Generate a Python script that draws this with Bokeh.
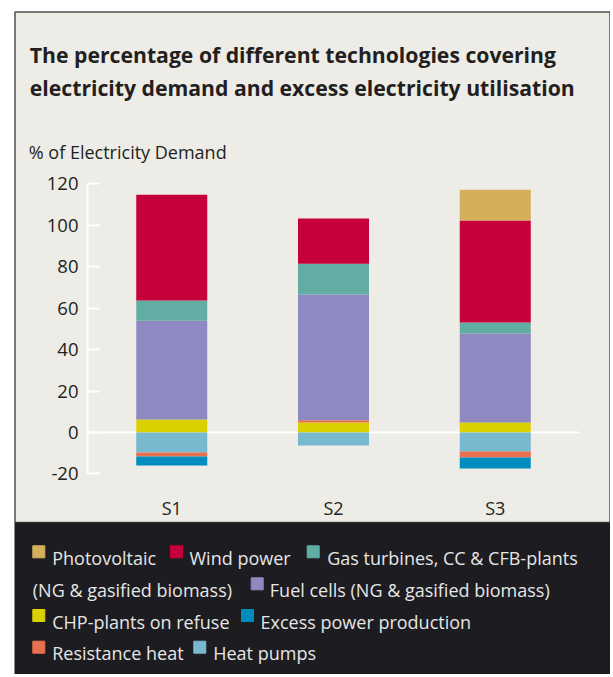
from bokeh.plotting import figure
from bokeh.models import ColumnDataSource, Range1d, FixedTicker
from bokeh.core.properties import value
from bokeh.embed import file_html
from bokeh.resources import INLINE

# ---------------- data ----------------
scenarios = ["S1", "S2", "S3"]
photovoltaic = [0.0, 0.0, 14.9]
wind_power = [51.1, 21.8, 49.2]
gas_turbines = [9.7, 14.9, 5.3]
fuel_cells = [47.7, 60.7, 43.0]
chp_refuse = [6.3, 4.8, 4.8]
resistance_heat_pos = [0.0, 1.1, 0.0]
heat_pumps = [-9.6, -6.3, -9.2]
resistance_heat = [-2.0, 0.0, -2.9]
excess_power = [-4.3, 0.0, -5.3]

y_ticks = [-20, 0, 20, 40, 60, 80, 100, 120]
y_tick_labels = ["-20", "0", "20", "40", "60", "80", "100", "120"]

title_lines = ["The percentage of different technologies covering",
               "electricity demand and excess electricity utilisation"]
y_title = "% of Electricity Demand"

legend_text = ["Photovoltaic", "Wind power", "Gas turbines, CC & CFB-plants",
               "(NG & gasified biomass)", "Fuel cells (NG & gasified biomass)",
               "CHP-plants on refuse", "Excess power production",
               "Resistance heat", "Heat pumps"]

# ---------------- styles ----------------
LIGHT = "#EDECE6"
DARK = "#1D1C20"
TEXT = "#231F20"
LEGTEXT = "#E6E6E6"
FONT = "Open Sans"
C = {
    "pv": "#D4AF5B",
    "wind": "#C5003A",
    "gas": "#61ADA3",
    "fuel": "#8F89C1",
    "chp": "#DCD100",
    "excess": "#008CBF",
    "res": "#E8704E",
    "hp": "#79B9D0",
}

# canvas geometry (page pixels)
OX, OY = 0, 0
W, H = 610, 674
PX_PER_X = 161.75      # pixels per category step
X1_PX = 171.25         # page x of first category centre
PX_PER_Y = 2.0714      # pixels per percentage point
Y0_PX = 432.0          # page y of the zero line


def X(px):
    return 1 + (px - X1_PX) / PX_PER_X


def Y(py):
    return (Y0_PX - py) / PX_PER_Y


def DW(px):
    return px / PX_PER_X


x_pos = list(range(1, len(scenarios) + 1))

src = ColumnDataSource(dict(
    x=x_pos, pv=photovoltaic, wind=wind_power, gas=gas_turbines,
    fuel=fuel_cells, chp=chp_refuse, res_pos=resistance_heat_pos,
    hp=heat_pumps, res=resistance_heat, exc=excess_power))

p = figure(width=W, height=H, title=None,
           x_range=Range1d(X(OX), X(OX + W)),
           y_range=Range1d(Y(OY + H), Y(OY)),
           output_backend="svg", toolbar_location=None,
           min_border=0, min_border_left=0, min_border_right=0,
           min_border_top=0, min_border_bottom=0,
           background_fill_color="white", border_fill_color="white",
           outline_line_color=None)
p.xgrid.visible = False
p.ygrid.visible = False

# panel backgrounds
p.quad(left=[X(14.5)], right=[X(609.5)], top=[Y(11.5)], bottom=[Y(522)],
       fill_color=LIGHT, line_color="#505050", line_width=1.5)
p.quad(left=[X(14)], right=[X(610)], top=[Y(522)], bottom=[Y(OY + H + 2)],
       fill_color=DARK, line_color=None)

# title
p.text(x=[X(29.3), X(29.3)], y=[Y(54.3), Y(86.7)], text=title_lines,
       text_font=value(FONT), text_font_style="bold", text_font_size="21.2px",
       text_color=TEXT, text_baseline="alphabetic")
p.text(x=[X(28.3)], y=[Y(151.7)], text=[y_title],
       text_font=value(FONT), text_font_size="18px",
       text_color=TEXT, text_baseline="alphabetic")

# zero line
axis_x = X(87)
p.segment(x0=[axis_x], y0=[0], x1=[X(579)], y1=[0], line_color="white", line_width=2)

# bars (fill only, so zero-height segments stay invisible)
BW = DW(71)
p.vbar_stack(["chp", "res_pos", "fuel", "gas", "wind", "pv"], x="x", width=BW,
             fill_color=[C["chp"], C["res"], C["fuel"], C["gas"], C["wind"], C["pv"]],
             line_color=None, source=src)
p.vbar_stack(["hp", "res", "exc"], x="x", width=BW,
             fill_color=[C["hp"], C["res"], C["excess"]], line_color=None, source=src)

# axes
ya = p.yaxis[0]
ya.fixed_location = axis_x
ya.ticker = FixedTicker(ticks=y_ticks)
ya.major_label_overrides = dict(zip(y_ticks, y_tick_labels))
ya.bounds = (-20, 120)
ya.axis_line_color = "white"
ya.axis_line_width = 2
ya.major_tick_line_color = "white"
ya.major_tick_line_width = 2
ya.major_tick_in = 12
ya.major_tick_out = 0
ya.minor_tick_line_color = None
ya.major_label_standoff = 9
ya.major_label_text_font = FONT
ya.major_label_text_font_size = "18.5px"
ya.major_label_text_color = TEXT

xa = p.xaxis[0]
xa.fixed_location = Y(478)
xa.ticker = FixedTicker(ticks=x_pos)
xa.major_label_overrides = dict(zip(x_pos, scenarios))
xa.axis_line_color = None
xa.major_tick_line_color = None
xa.minor_tick_line_color = None
xa.major_label_standoff = 11
xa.major_label_text_font = FONT
xa.major_label_text_font_size = "18px"
xa.major_label_text_color = TEXT

# legend (manual, wrapped like the reference)
rows = [557.3, 589.3, 621.0, 652.7]
sq_x = [32.3, 170.0, 306.7, 250.7, 32.3, 241.0, 32.3, 193.3]
sq_row = [0, 0, 0, 1, 2, 2, 3, 3]
sq_col = [C["pv"], C["wind"], C["gas"], C["fuel"], C["chp"], C["excess"], C["res"], C["hp"]]
p.quad(left=[X(x) for x in sq_x], right=[X(x + 12) for x in sq_x],
       top=[Y(rows[r] - 12) for r in sq_row], bottom=[Y(rows[r]) for r in sq_row],
       color=sq_col)

tx = [51.7, 189.0, 326.7, 32.3, 269.3, 51.7, 260.0, 51.7, 212.7]
trow = [0, 0, 0, 1, 1, 2, 2, 3, 3]
p.text(x=[X(x) for x in tx], y=[Y(rows[r]) for r in trow], text=legend_text,
       text_font=value(FONT), text_font_size="18px", text_color=LEGTEXT,
       text_baseline="alphabetic")

open("out.html", "w").write(file_html(p, INLINE))
